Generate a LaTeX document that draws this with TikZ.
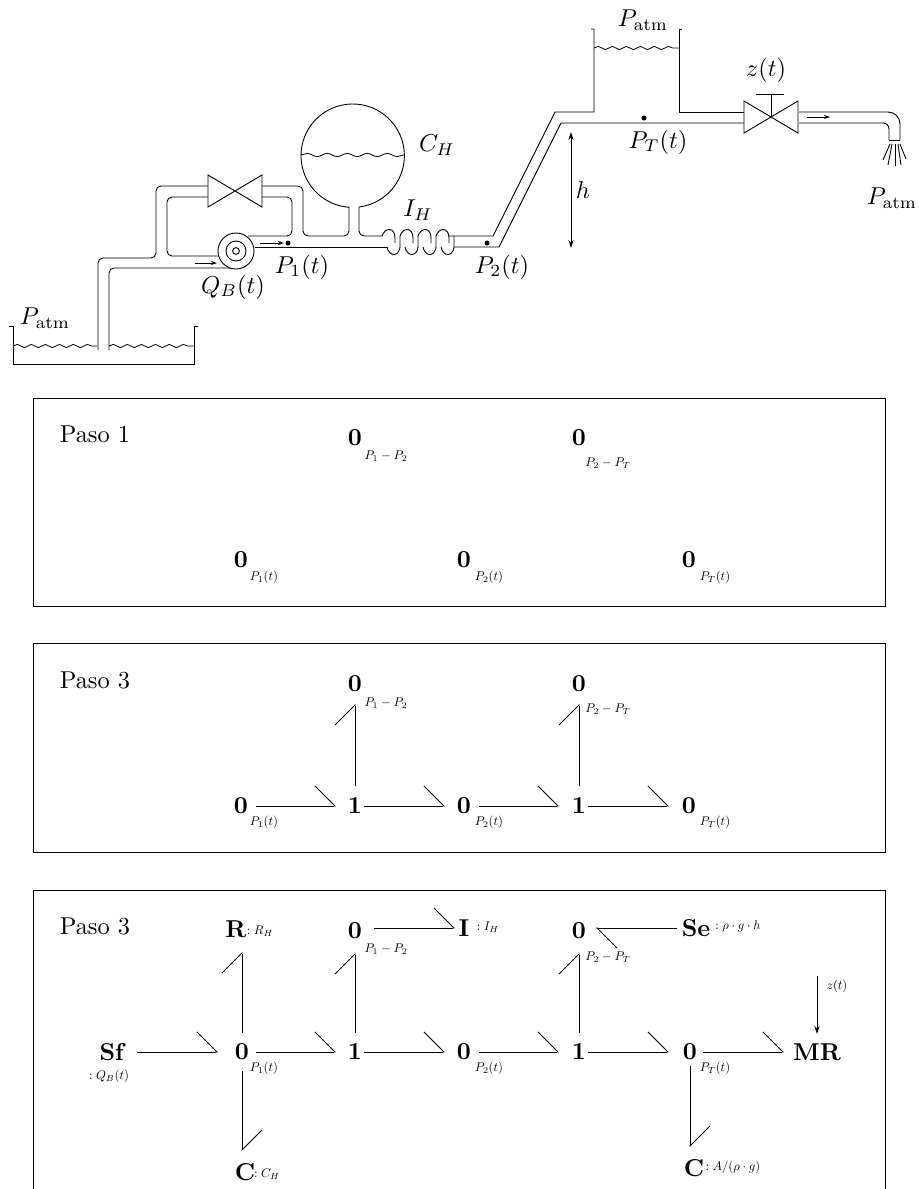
\documentclass[tikz,border=0pt]{standalone}
\usepackage{amsmath}
\usepackage{tikz}
\usetikzlibrary{arrows.meta,decorations.pathmorphing}
\tikzset{
  pipe/.style={line width=.45pt,rounded corners=2.5pt},
  wall/.style={line width=.45pt},
  water/.style={line width=.4pt,decorate,decoration={snake,segment length=#1,amplitude=.8pt}},
  water/.default=7pt,
  valve/.style={line width=.45pt,fill=white},
  bgelem/.style={inner sep=0pt,scale=1.22},
  bglabel/.style={inner sep=0pt,scale=.63},
  plabel/.style={inner sep=0pt,scale=1.22},
  bondline/.style={line width=.45pt,-{Straight Barb[left,length=10pt,width=20pt,line width=.45pt]}},
  panel/.style={line width=.45pt},
  flow/.style={line width=.4pt,-{Stealth[length=3pt,width=2pt]}},
}
\newcommand{\bgnode}[5]{%
  \node[bgelem] (#1) at (#2) {$\mathbf{#3}$};
  \node[bglabel] (#1lab) at (#4) {$#5$};
}
\newcommand{\bond}[4]{%
  \draw[bondline,shorten <=#3pt,shorten >=#4pt] (#1.center) -- (#2.center);
}
\newcommand{\valvebody}[1]{%
  \draw[valve] (#1) ++(-27,-16) -- ++(0,32) -- ++(54,-32) -- ++(0,32) -- cycle;
}
\newcommand{\coilturn}[1]{%
  \draw[wall] (#1,236) .. controls ({#1+3},227) and ({#1+13},227) .. ({#1+13},238) -- ({#1+13},243);
  \draw[wall] ({#1+5},247) .. controls ({#1+7},257) and ({#1+17},257) .. ({#1+18},247) -- ({#1+18},236);
}

\begin{document}
\begin{tikzpicture}[x=.5pt,y=-.5pt]
    \useasboundingbox (0,0) rectangle (918,1189);

    % suction side and bypass
    \draw[wall] (9,326) -- (13,326) -- (13,364) -- (194,364) -- (194,326) -- (198,326);
    \draw[water] (13,346) -- (97,346);
    \draw[water] (109,346) -- (194,346);
    \draw[pipe] (98,350) -- (98,258) -- (156,258) -- (156,186) -- (208,186);
    \draw[pipe] (109,350) -- (109,268) -- (231,268);
    \draw[pipe] (219,256) -- (167,256) -- (167,197) -- (208,197);
    \draw[pipe] (248,236) -- (292,236) -- (292,197) -- (262,197);
    \draw[pipe] (262,186) -- (303,186) -- (303,236) -- (349,236) -- (349,207);
    \draw[pipe] (359,207) -- (359,236) -- (382,236);
    \draw[wall] (255,247) -- (387,247);
    \valvebody{235,191}

    % pump
    \draw[wall,fill=white] (236,251) circle[radius=9pt];
    \draw[wall] (236,251) circle[radius=5pt];
    \draw[wall] (236,251) circle[radius=1.7pt];
    \draw[flow] (195,263) -- (217,263);
    \draw[flow] (260,243) -- (284,243);
    \fill (288,243) circle[radius=1.25pt];

    % accumulator and inertance
    \draw[wall] (359,207) arc[start angle=-83,end angle=266,radius=25.85pt];
    \draw[water=10pt] (301,155) -- (404,155);
    \coilturn{382}
    \coilturn{400}
    \coilturn{418}
    \coilturn{436}

    % rise and upper tank
    \draw[wall] (449,236) -- (493,236) -- (555,112) -- (594,112) -- (594,29) -- (591,29);
    \draw[wall] (454,247) -- (499,247) -- (561,123) -- (744,123);
    \fill (487,243) circle[radius=1.25pt];
    \fill (644,118) circle[radius=1.25pt];
    \draw[wall] (682,29) -- (679,29) -- (679,112) -- (744,112);
    \draw[water] (594,48) -- (679,48);
    \draw[wall,{Stealth[length=4pt,width=2.5pt]}-{Stealth[length=4pt,width=2.5pt]}] (571,132) -- (571,248);

    % outlet
    \valvebody{771,117}
    \draw[wall] (771,117) -- (771,94);
    \draw[wall] (756,94) -- (784,94);
    \draw[wall,rounded corners=6pt] (799,112) -- (900,112) -- (900,140);
    \draw[wall,rounded corners=3pt] (799,123) -- (889,123) -- (889,140);
    \draw[wall] (889,140) -- (900,140);
    \draw[flow] (807,117) -- (830,117);
    \foreach \xa/\xb/\yb in {890/883/160,892/888/165,895/895/166,898/901/165,900/906/159}{
        \draw[wall] (\xa,144) -- (\xb,\yb);
    }

    \node[plabel] (patmleft) at (45,318) {$P_{\mathrm{atm}}$};
    \node[plabel] (patmtop) at (643,20) {$P_{\mathrm{atm}}$};
    \node[plabel] (patmright) at (892,198) {$P_{\mathrm{atm}}$};
    \node[plabel] (qb) at (233,287) {$Q_B(t)$};
    \node[plabel] (pone) at (302,267) {$P_1(t)$};
    \node[plabel] (ptwo) at (502,267) {$P_2(t)$};
    \node[plabel] (ptank) at (658,142) {$P_T(t)$};
    \node[plabel] (ch) at (437,145) {$C_H$};
    \node[plabel] (ih) at (418,210) {$I_H$};
    \node[plabel] (hgt) at (583,190) {$h$};
    \node[plabel] (zt) at (766,70) {$z(t)$};

    % step 1
    \draw[panel] (33,398) rectangle (885,606);
    \node[plabel] (titlea) at (95,434) {Paso 1};
    \bgnode{az}{355,438}{0}{386,456}{P_1-P_2}
    \bgnode{ay}{579,438}{0}{608,463}{P_2-P_T}
    \bgnode{aa}{241,560}{0}{264,577}{P_1(t)}
    \bgnode{ab}{464,560}{0}{489,577}{P_2(t)}
    \bgnode{ac}{689,560}{0}{715,577}{P_T(t)}

    % step 2
    \draw[panel] (33,643) rectangle (885,852);
    \node[plabel] (titleb) at (95,680) {Paso 3};
    \bgnode{bz}{355,684}{0}{386,703}{P_1-P_2}
    \bgnode{by}{579,684}{0}{608,709}{P_2-P_T}
    \bgnode{ba}{241,806}{0}{264,822}{P_1(t)}
    \bgnode{bb}{464,806}{0}{489,822}{P_2(t)}
    \bgnode{bc}{689,806}{0}{715,822}{P_T(t)}
    \node[bgelem] (bd) at (355,806) {$\mathbf{1}$};
    \node[bgelem] (be) at (579,806) {$\mathbf{1}$};
    \bond{ba}{bd}{7.5}{9.5}
    \bond{bd}{bb}{4.5}{9.5}
    \bond{bb}{be}{7.5}{10}
    \bond{be}{bc}{4.5}{10}
    \bond{bd}{bz}{10}{10}
    \bond{be}{by}{10}{10}

    % step 3
    \draw[panel] (33,1189) -- (33,890) -- (885,890) -- (885,1189);
    \node[plabel] (titlec) at (95,926) {Paso 3};
    \bgnode{cr}{236,929}{R}{260,931}{:R_H}
    \bgnode{cz}{355,931}{0}{386,949}{P_1-P_2}
    \bgnode{ci}{464,928}{I}{488,927}{:I_H}
    \bgnode{cy}{579,931}{0}{608,957}{P_2-P_T}
    \bgnode{cs}{696,928}{Se}{738,926}{:\rho\cdot g\cdot h}
    \bgnode{cf}{113,1052}{Sf}{109,1076}{:Q_B(t)}
    \bgnode{ca}{242,1052}{0}{264,1068}{P_1(t)}
    \bgnode{cb}{464,1052}{0}{489,1068}{P_2(t)}
    \bgnode{cc}{690,1052}{0}{715,1068}{P_T(t)}
    \bgnode{ck}{245,1172}{C}{267,1174}{:C_H}
    \bgnode{cl}{694,1168}{C}{733,1167}{:A/(\rho\cdot g)}
    \node[bgelem] (cd) at (355,1052) {$\mathbf{1}$};
    \node[bgelem] (ce) at (579,1052) {$\mathbf{1}$};
    \node[bgelem] (cm) at (817,1052) {$\mathbf{MR}$};
    \coordinate (czt) at (817,976);
    \node[bglabel] (cztlab) at (837,986) {$z(t)$};
    \bond{cf}{ca}{12}{12}
    \bond{ca}{cd}{7}{9.5}
    \bond{cd}{cb}{4.5}{9.5}
    \bond{cb}{ce}{7.5}{10}
    \bond{ce}{cc}{4.5}{10.5}
    \bond{cc}{cm}{6.5}{16.5}
    \bond{cd}{cz}{9.5}{11}
    \bond{ce}{cy}{9.5}{11}
    \draw[bondline,shorten <=9.5pt,shorten >=11.5pt] (ca.center) -- (ca.center |- cr.center);
    \draw[bondline,shorten <=9.5pt,shorten >=10.5pt] (ca.center) -- (ca.center |- ck.center);
    \draw[bondline,shorten <=7pt,shorten >=10.5pt] (cc.center) -- (cc.center |- cl.center);
    \draw[bondline,shorten <=9.5pt,shorten >=4.5pt] (cz.center |- ci.center) -- (ci.center);
    \draw[bondline,shorten <=9.5pt,shorten >=8.5pt] (cs.center) -- (cy.center |- cs.center);
    \draw[wall,-{Stealth[length=4pt,width=2.5pt]},shorten >=9pt] (czt) -- (cm.center);
\end{tikzpicture}
\end{document}
